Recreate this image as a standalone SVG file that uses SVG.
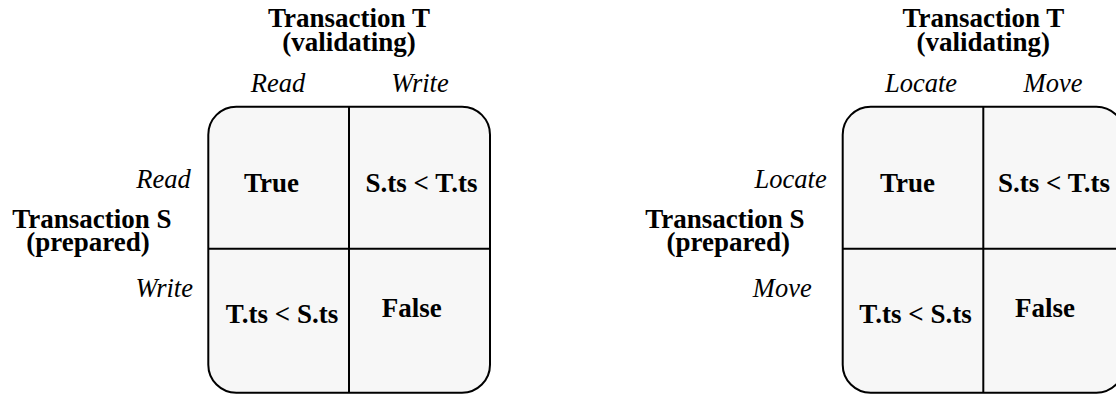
<svg xmlns="http://www.w3.org/2000/svg" width="1116" height="395" viewBox="0 0 1116 395">
<style>
.box{fill:#f7f7f7;stroke:#000;stroke-width:2}
.ln{stroke:#000;stroke-width:2;fill:none}
.b{font-family:'Liberation Serif','Times New Roman',serif;font-weight:bold;font-size:27px;fill:#000}
.i{font-family:'Liberation Serif','Times New Roman',serif;font-style:italic;font-size:26.5px;fill:#000}
.m{text-anchor:middle}
.e{text-anchor:end}
</style>
<rect width="1116" height="395" fill="#fff"/>
<g id="left">
<rect class="box" x="208.3" y="106.7" width="281.7" height="286" rx="28" ry="28"/>
<line class="ln" x1="349" y1="106.7" x2="349" y2="392.7"/>
<line class="ln" x1="208.3" y1="248.7" x2="490" y2="248.7"/>
<text class="b m" x="349" y="27">Transaction T</text>
<text class="b m" x="349" y="51">(validating)</text>
<text class="b m" x="92" y="228">Transaction S</text>
<text class="b m" x="88" y="251">(prepared)</text>
<text class="b m" x="271.5" y="192.3">True</text>
<text class="b m" x="421.5" y="192.3">S.ts &lt; T.ts</text>
<text class="b m" x="282" y="322.7">T.ts &lt; S.ts</text>
<text class="b m" x="411.7" y="316.7">False</text>
<text class="i m" x="278" y="91.7">Read</text>
<text class="i m" x="420" y="91.7">Write</text>
<text class="i e" x="190.7" y="188.3">Read</text>
<text class="i e" x="193" y="296.7">Write</text>
</g>
<g id="right">
<rect class="box" x="842.7" y="106.7" width="281.7" height="286" rx="28" ry="28"/>
<line class="ln" x1="983.3" y1="106.7" x2="983.3" y2="392.7"/>
<line class="ln" x1="842.7" y1="248.7" x2="1124.4" y2="248.7"/>
<text class="b m" x="983.3" y="27">Transaction T</text>
<text class="b m" x="983.3" y="51">(validating)</text>
<text class="b m" x="725" y="228">Transaction S</text>
<text class="b m" x="728.3" y="251">(prepared)</text>
<text class="b m" x="907.5" y="192.3">True</text>
<text class="b" x="998" y="192.3">S.ts &lt; T.ts</text>
<text class="b m" x="915.5" y="322.7">T.ts &lt; S.ts</text>
<text class="b m" x="1045" y="316.7">False</text>
<text class="i m" x="921" y="91.7">Locate</text>
<text class="i m" x="1053" y="91.7">Move</text>
<text class="i e" x="826.7" y="188.3">Locate</text>
<text class="i e" x="811.7" y="296.7">Move</text>
</g>
</svg>
